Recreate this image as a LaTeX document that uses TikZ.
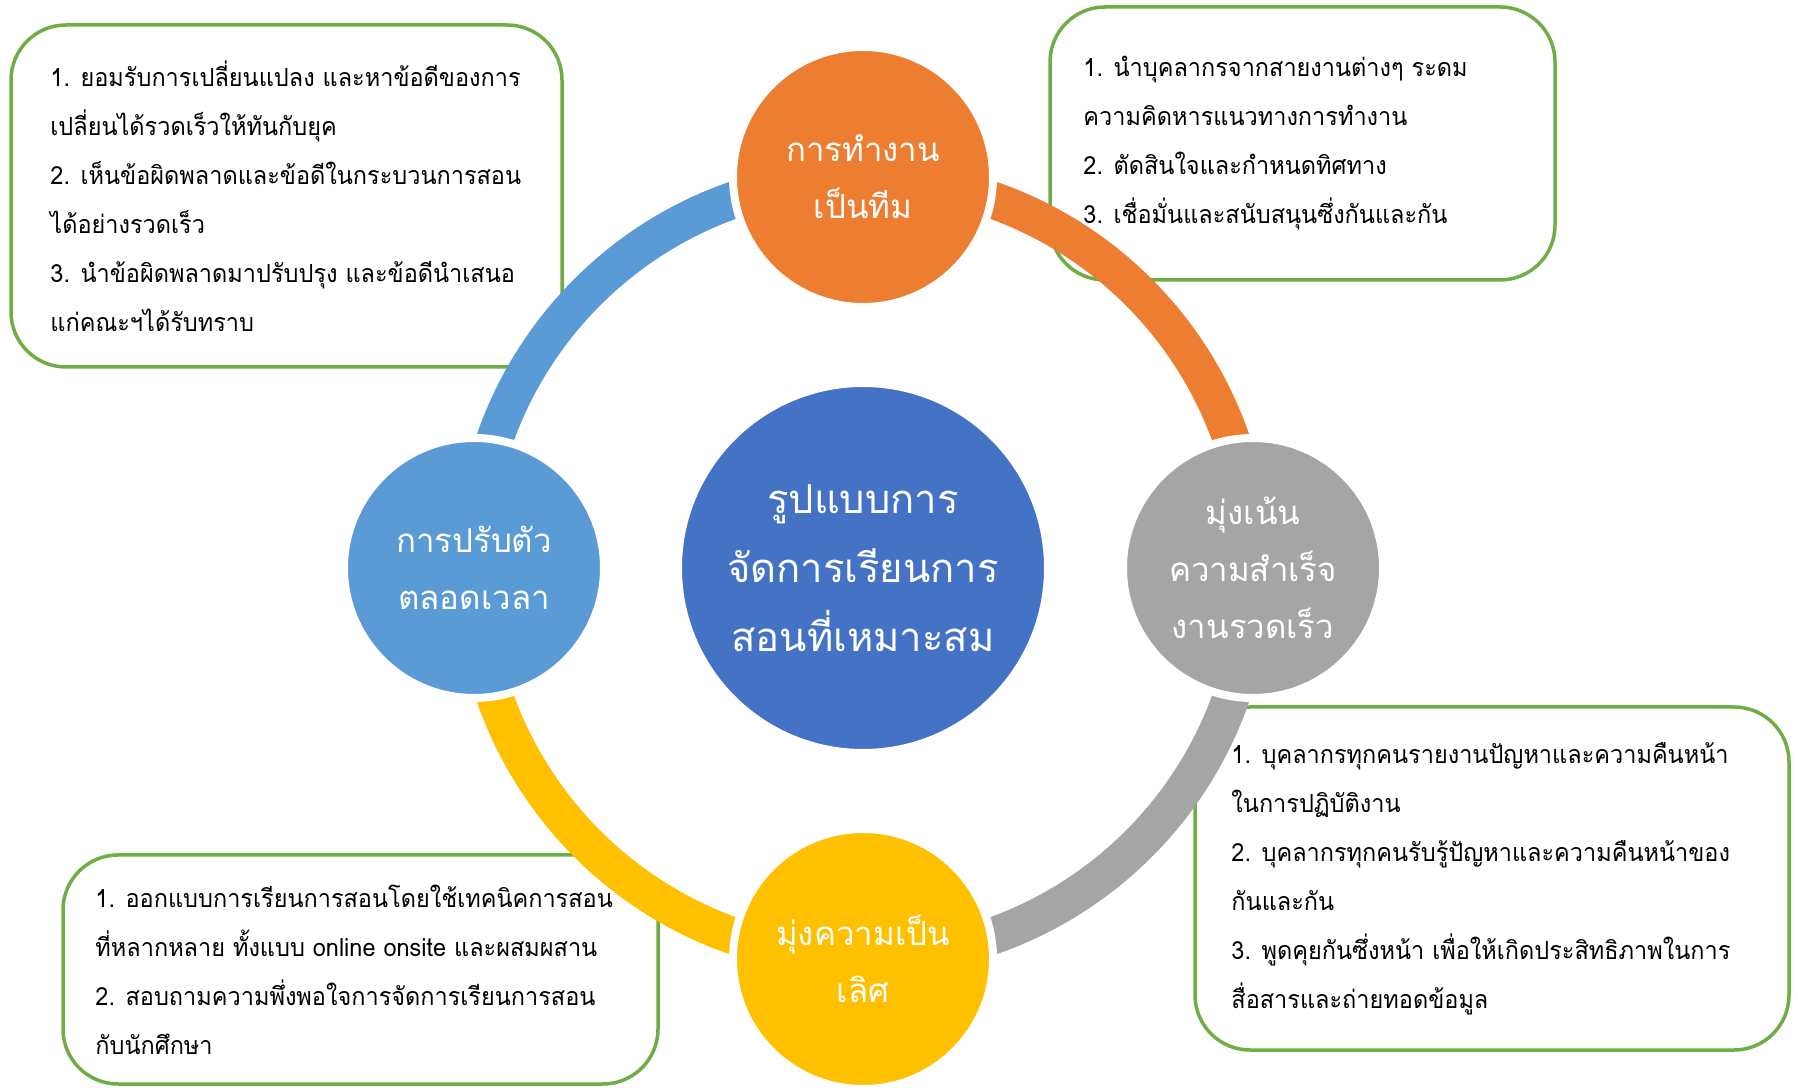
\documentclass[tikz,border=0pt]{standalone}
\usepackage{fontspec}
\newfontfamily\thaifont[Script=Thai]{Loma}
\newfontfamily\thaiboxfont[Script=Thai,FakeStretch=0.94]{Loma}
\definecolor{boxgreen}{HTML}{70AD47}
\definecolor{cOrange}{HTML}{ED7D31}
\definecolor{cBlue}{HTML}{5B9BD5}
\definecolor{cGray}{HTML}{A5A5A5}
\definecolor{cYellow}{HTML}{FFC000}
\definecolor{cCenter}{HTML}{4472C4}
\begin{document}
\begin{tikzpicture}[x=1pt,y=1pt,
  infobox/.style={draw=boxgreen, line width=3.5pt, fill=white, rounded corners=55pt, inner sep=0pt},
  boxtext/.style={anchor=west, inner sep=0pt, align=left, text=black, font=\thaiboxfont\fontsize{25}{49}\selectfont},
  ringarc/.style={line width=37pt},
  sat/.style={circle, draw=white, line width=8pt, minimum size=260pt, inner sep=0pt, text=white, align=center, font=\thaifont\fontsize{33}{57}\selectfont},
  hub/.style={circle, draw=white, line width=6pt, minimum size=368pt, inner sep=0pt, fill=cCenter, text=white, align=center, font=\thaifont\fontsize{40}{69}\selectfont},
]
\useasboundingbox[fill=white] (0,0) rectangle (1798,1087);

% information boxes
\node[infobox, minimum width=551pt, minimum height=342pt] (tl) at (286.5,891) {};
\node[infobox, minimum width=505pt, minimum height=273pt] (tr) at (1302.5,943.5) {};
\node[infobox, minimum width=594pt, minimum height=343pt] (br) at (1492,208.5) {};
\node[infobox, minimum width=595pt, minimum height=229pt] (bl) at (360.5,117.5) {};

\node[boxtext] (tltext) at ([xshift=41pt]tl.west) {1. ยอมรับการเปลี่ยนแปลง และหาข้อดีของการ\\เปลี่ยนได้รวดเร็วให้ทันกับยุค\\2. เห็นข้อผิดพลาดและข้อดีในกระบวนการสอน\\ได้อย่างรวดเร็ว\\3. นำข้อผิดพลาดมาปรับปรุง และข้อดีนำเสนอ\\แก่คณะฯได้รับทราบ};
\node[boxtext] (trtext) at ([xshift=35pt]tr.west) {1. นำบุคลากรจากสายงานต่างๆ ระดม\\ความคิดหารแนวทางการทำงาน\\2. ตัดสินใจและกำหนดทิศทาง\\3. เชื่อมั่นและสนับสนุนซึ่งกันและกัน};
\node[boxtext] (brtext) at ([xshift=38pt]br.west) {1. บุคลากรทุกคนรายงานปัญหาและความคืนหน้า\\ในการปฏิบัติงาน\\2. บุคลากรทุกคนรับรู้ปัญหาและความคืนหน้าของ\\กันและกัน\\3. พูดคุยกันซึ่งหน้า เพื่อให้เกิดประสิทธิภาพในการ\\สื่อสารและถ่ายทอดข้อมูล};
\node[boxtext] (bltext) at ([xshift=34pt]bl.west) {1. ออกแบบการเรียนการสอนโดยใช้เทคนิคการสอน\\ที่หลากหลาย ทั้งแบบ online onsite และผสมผสาน\\2. สอบถามความพึ่งพอใจการจัดการเรียนการสอน\\กับนักศึกษา};

% ring
\coordinate (c) at (863,519);
\draw[ringarc, cOrange] (c) ++(90:390) arc[start angle=90, end angle=0, radius=390];
\draw[ringarc, cGray] (c) ++(0:390) arc[start angle=0, end angle=-90, radius=390];
\draw[ringarc, cYellow] (c) ++(-90:390) arc[start angle=-90, end angle=-180, radius=390];
\draw[ringarc, cBlue] (c) ++(180:390) arc[start angle=180, end angle=90, radius=390];

% circles
\node[hub] (hub) at (c) {รูปแบบการ\\จัดการเรียนการ\\สอนที่เหมาะสม};
\node[sat, fill=cOrange] (top) at (863,910) {การทำงาน\\เป็นทีม};
\node[sat, fill=cGray] (right) at (1253,519) {มุ่งเน้น\\ความสำเร็จ\\งานรวดเร็ว};
\node[sat, fill=cYellow] (bottom) at (863,128) {มุ่งความเป็น\\เลิศ};
\node[sat, fill=cBlue] (left) at (474,519) {การปรับตัว\\ตลอดเวลา};
\end{tikzpicture}
\end{document}
